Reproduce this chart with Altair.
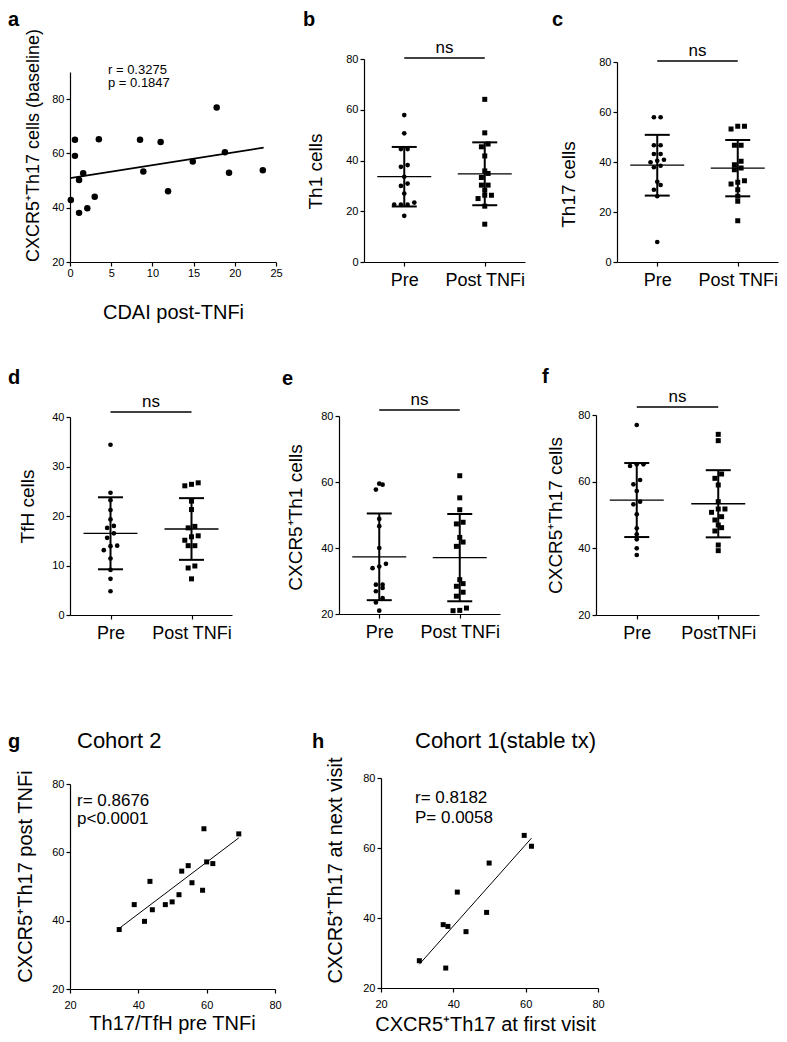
import altair as alt
import pandas as pd

FONT = "Liberation Sans"

# ---------------- data ----------------
# a: CDAI post-TNFi vs CXCR5+Th17 cells (baseline)
a_cdai = [0.1, 0.6, 0.6, 1.1, 1.1, 1.6, 2.1, 3.0, 3.5, 8.5, 8.9, 11.0, 11.9, 14.9, 17.8, 18.8, 19.3, 23.4]
a_th17 = [42.8, 65.0, 59.1, 50.2, 38.1, 52.7, 39.8, 44.0, 65.2, 65.0, 53.3, 64.2, 46.1, 57.0, 76.9, 60.4, 52.9, 53.8]
a_text = ["r = 0.3275", "p = 0.1847"]
a_xticks = [0, 5, 10, 15, 20, 25]
a_yticks = [20, 40, 60, 80]

# b-f: Pre vs Post TNFi
cats = ["Pre", "Post TNFi"]
cats_f = ["Pre", "PostTNFi"]
b_pre = [57.9, 50.7, 44.5, 44.5, 38.2, 37.5, 33.6, 30.9, 30.0, 27.0, 23.4, 22.6, 22.6, 22.6, 18.2]
b_post = [64.1, 50.9, 46.5, 45.4, 41.8, 35.9, 34.9, 33.3, 30.3, 30.3, 28.3, 26.3, 26.3, 25.0, 22.0, 14.9]
c_pre = [57.9, 57.9, 46.7, 46.7, 43.2, 43.2, 40.9, 40.5, 39.9, 38.5, 37.9, 32.1, 30.8, 28.9, 26.3, 8.0]
c_post = [54.3, 53.2, 54.3, 46.7, 46.7, 40.3, 38.9, 37.6, 36.9, 32.5, 31.9, 31.2, 28.9, 26.3, 24.3, 16.5]
d_pre = [34.4, 24.7, 23.2, 21.2, 19.3, 18.0, 17.6, 16.5, 15.6, 14.0, 13.9, 13.1, 11.4, 9.1, 7.3, 4.8]
d_post = [26.4, 26.1, 26.7, 23.0, 21.3, 17.9, 17.6, 16.0, 15.8, 15.1, 14.0, 14.0, 9.9, 9.5, 7.3]
e_pre = [59.5, 59.2, 57.7, 48.8, 46.6, 40.0, 35.2, 34.4, 33.9, 28.9, 28.9, 27.9, 26.9, 24.8, 23.5, 21.0]
e_post = [61.9, 55.2, 51.6, 47.8, 47.3, 43.2, 41.8, 40.5, 30.4, 29.2, 28.4, 26.6, 25.4, 21.8, 21.1, 21.0]
f_pre = [77.0, 65.2, 65.2, 64.7, 60.5, 59.2, 57.2, 54.0, 53.2, 50.2, 46.0, 44.2, 42.7, 40.0, 38.0]
f_post = [74.2, 72.3, 62.3, 61.0, 59.0, 54.0, 51.8, 51.8, 50.8, 49.5, 48.5, 47.0, 46.2, 45.2, 41.0, 39.3]

# g: Cohort 2
g_x = [34.4, 38.8, 41.8, 43.4, 44.1, 47.9, 49.9, 51.9, 52.7, 54.6, 55.7, 58.8, 59.2, 60.0, 61.8, 69.4]
g_y = [37.4, 44.7, 39.8, 51.5, 43.2, 44.7, 45.5, 47.6, 54.5, 56.1, 51.1, 48.9, 66.9, 57.2, 56.7, 65.4]
g_text = ["r= 0.8676", "p<0.0001"]
# h: Cohort 1 (stable tx)
h_x = [30.6, 37.2, 38.5, 37.9, 41.1, 43.5, 49.2, 49.9, 59.6, 61.6]
h_y = [27.8, 38.1, 37.6, 25.7, 47.4, 36.1, 41.6, 55.7, 63.6, 60.5]
h_text = ["r= 0.8182", "P= 0.0058"]
gh_ticks = [20, 40, 60, 80]

SUP = "\u207a"

# ---------------- helpers ----------------
STEP_PX = 6.7
GROUP_PX = 5.0
MEAN_HW_PX = 27
CAP_HW_PX = 12.5


def swarm(values, px_per_unit):
    order = sorted(range(len(values)), key=lambda i: values[i])
    groups = []
    for i in order:
        if groups and (values[i] - values[groups[-1][0]]) * px_per_unit < GROUP_PX:
            groups[-1].append(i)
        else:
            groups.append([i])
    off = [0.0] * len(values)
    for g in groups:
        k = len(g)
        for j, i in enumerate(g):
            off[i] = (j - (k - 1) / 2) * STEP_PX
    return off


def frame(L, T, W, H, R, B):
    return alt.Chart(alt.Data(values=[{"k": 0}])).mark_rule(
        color="white", strokeWidth=0.01, opacity=0
    ).encode(x=alt.value(-L), x2=alt.value(W + R), y=alt.value(-T), y2=alt.value(H + B))


def wrap(panel):
    # a 1px invisible spacer on top, so that each panel's vertical offset
    # inside its row is set by its own frame
    spacer = frame(0, 0, 1, 1, 0, 0).properties(width=1, height=1)
    return alt.vconcat(spacer, panel, spacing=0)


def txt(text, x, y, size, weight="normal", align="left", baseline="alphabetic"):
    return alt.Chart(alt.Data(values=[{"t": text}])).mark_text(
        font=FONT, fontSize=size, fontWeight=weight, align=align, baseline=baseline, color="black"
    ).encode(x=alt.value(x), y=alt.value(y), text="t:N")


def yaxis(ticks, title, tx, ty, tsize=19):
    return alt.Axis(values=ticks, title=title, titleX=tx, titleY=ty, titleAngle=270,
                    titleAlign="center", titleBaseline="middle", titleFontSize=tsize,
                    labelFontSize=11, labelPadding=2, labelFlush=False, labelOverlap=False)


def dot_panel(pre, post, W, H, ydom, yticks, ytitle, ytpos, labels, letter, letter_pos,
              bar_y, frm, cat_size=18):
    ymin, ymax = ydom
    ppu = H / (ymax - ymin)
    ux = 2.0 / W
    po = swarm(pre, ppu)
    qo = swarm(post, ppu)
    df = pd.DataFrame({
        "grp": [1] * len(pre) + [2] * len(post),
        "value": pre + post,
        "xpos": [1 + o * ux for o in po] + [2 + o * ux for o in qo],
    })
    xs = alt.Scale(domain=[0.5, 2.5], nice=False, zero=False)
    ys = alt.Scale(domain=[ymin, ymax], nice=False, zero=False)
    xa = alt.Axis(values=[1, 2], title=None,
                  labelExpr=f"datum.value == 1 ? '{labels[0]}' : '{labels[1]}'",
                  labelFontSize=cat_size, labelPadding=5, labelFlush=False, labelOverlap=False)
    ya = yaxis(yticks, ytitle, ytpos[0], ytpos[1])

    def X(f):
        return alt.X(f, scale=xs, axis=xa)

    def Y(f):
        return alt.Y(f, scale=ys, axis=ya)

    pre_pts = alt.Chart(df[df.grp == 1]).mark_circle(size=22, color="black", opacity=1).encode(
        x=X("xpos:Q"), y=Y("value:Q"))
    post_pts = alt.Chart(df[df.grp == 2]).mark_square(size=25, color="black", opacity=1).encode(
        x=X("xpos:Q"), y=Y("value:Q"))
    stats = alt.Chart(df).transform_aggregate(
        m="mean(value)", s="stdev(value)", groupby=["grp"]
    ).transform_calculate(
        lo="datum.m - datum.s", hi="datum.m + datum.s",
        ml=f"datum.grp - {MEAN_HW_PX * ux}", mr=f"datum.grp + {MEAN_HW_PX * ux}",
        cl=f"datum.grp - {CAP_HW_PX * ux}", cr=f"datum.grp + {CAP_HW_PX * ux}",
    )
    mean_r = stats.mark_rule(color="black", strokeWidth=1.3).encode(x=X("ml:Q"), x2="mr:Q", y=Y("m:Q"))
    sd_r = stats.mark_rule(color="black", strokeWidth=2).encode(x=X("grp:Q"), y=Y("lo:Q"), y2="hi:Q")
    cap_hi = stats.mark_rule(color="black", strokeWidth=2).encode(x=X("cl:Q"), x2="cr:Q", y=Y("hi:Q"))
    cap_lo = stats.mark_rule(color="black", strokeWidth=2).encode(x=X("cl:Q"), x2="cr:Q", y=Y("lo:Q"))
    ns_df = pd.DataFrame({"x1": [1], "x2": [2], "xm": [1.5], "t": ["ns"]})
    ns_bar = alt.Chart(ns_df).mark_rule(color="black", strokeWidth=1.5).encode(
        x=X("x1:Q"), x2="x2:Q", y=alt.value(bar_y))
    ns_txt = alt.Chart(ns_df).mark_text(font=FONT, fontSize=17, baseline="alphabetic", color="black").encode(
        x=X("xm:Q"), y=alt.value(bar_y - 5), text="t:N")
    lt = txt(letter, letter_pos[0], letter_pos[1], 20, weight="bold")
    panel = alt.layer(frame(*frm), pre_pts, post_pts, mean_r, sd_r, cap_hi, cap_lo,
                      ns_bar, ns_txt, lt).properties(width=W, height=H)
    return wrap(panel)


def scatter_panel(xv, yv, W, H, xdom, ydom, xticks, yticks, xtitle, ytitle, xtpos, ytpos,
                  shape, size, fit_extent, fit_w, ann, ann_pos, ann_size, letter, letter_pos,
                  frm, xlab_pad, ytsize=20, extra=None):
    df = pd.DataFrame({"x": xv, "y": yv})
    xs = alt.Scale(domain=xdom, nice=False, zero=False)
    ys = alt.Scale(domain=ydom, nice=False, zero=False)
    xa = alt.Axis(values=xticks, title=xtitle, titleX=xtpos[0], titleY=xtpos[1],
                  titleAlign="center", titleBaseline="middle", titleFontSize=20,
                  labelFontSize=11, labelPadding=xlab_pad, labelFlush=False, labelOverlap=False)
    ya = yaxis(yticks, ytitle, ytpos[0], ytpos[1], tsize=ytsize)
    enc = dict(x=alt.X("x:Q", scale=xs, axis=xa), y=alt.Y("y:Q", scale=ys, axis=ya))
    if shape == "circle":
        pts = alt.Chart(df).mark_circle(size=size, color="black", opacity=1).encode(**enc)
    else:
        pts = alt.Chart(df).mark_square(size=size, color="black", opacity=1).encode(**enc)
    reg = alt.Chart(df)
    if fit_extent is not None:
        reg = reg.transform_regression("x", "y", extent=fit_extent)
    else:
        reg = reg.transform_regression("x", "y")
    line = reg.mark_line(color="black", strokeWidth=fit_w).encode(**enc)
    layers = [frame(*frm), line, pts]
    for i, t in enumerate(ann):
        layers.append(txt(t, ann_pos[0], ann_pos[1][i], ann_size))
    layers.append(txt(letter, letter_pos[0], letter_pos[1], 20, weight="bold"))
    if extra is not None:
        layers.extend(extra)
    panel = alt.layer(*layers).properties(width=W, height=H)
    return wrap(panel)


# ---------------- panels ----------------
# frame = (left, top, width, height, right, bottom) room around each plot area
pa = scatter_panel(a_cdai, a_th17, 206, 190, [0, 25], [20, 90], a_xticks, a_yticks,
                   "CDAI post-TNFi", f"CXCR5{SUP}Th17 cells (baseline)", (103, 50), (-37, 73),
                   "circle", 42, [0, 23.5], 1.8, a_text, (38, [2, 15]), 13, "a", (-62, -46),
                   (62, 63, 206, 190, 24, 83), 1, ytsize=18)
pb = dot_panel(b_pre, b_post, 161, 203, (0, 80), [0, 20, 40, 60, 80], "Th1 cells", (-49, 112),
               cats, "b", (-61, -33), -1, (64, 50, 161, 203, 27, 83))
pc = dot_panel(c_pre, c_post, 161, 200, (0, 80), [0, 20, 40, 60, 80], "Th17 cells", (-49, 122),
               cats, "c", (-65, -36), -1, (65, 53, 161, 200, 1, 83))
pd_ = dot_panel(d_pre, d_post, 162, 198, (0, 40), [0, 10, 20, 30, 40], "TfH cells", (-43, 89),
                cats, "d", (-62, -33), -5, (62, 71, 162, 198, 50, 93))
pe = dot_panel(e_pre, e_post, 161, 198, (20, 80), [20, 40, 60, 80], f"CXCR5{SUP}Th1 cells", (-44, 101),
               cats, "e", (-57, -31), -6, (57, 70, 161, 198, 42, 94))
pf = dot_panel(f_pre, f_post, 163, 200, (20, 80), [20, 40, 60, 80], f"CXCR5{SUP}Th17 cells", (-41, 100),
               cats_f, "f", (-54, -32), -8, (54, 69, 163, 200, 20, 93))
pg = scatter_panel(g_x, g_y, 205, 205, [20, 80], [20, 80], gh_ticks, gh_ticks,
                   "Th17/TfH pre TNFi", f"CXCR5{SUP}Th17 post TNFi", (102, 34), (-45, 92),
                   "square", 25, None, 1, g_text, (7, [22, 40]), 17, "g", (-62, -36),
                   (62, 75, 205, 205, 37, 45), 6,
                   extra=[txt("Cohort 2", 7, -36, 22)])
ph = scatter_panel(h_x, h_y, 217, 210, [20, 80], [20, 80], gh_ticks, gh_ticks,
                   f"CXCR5{SUP}Th17 at first visit", f"CXCR5{SUP}Th17 at next visit", (104, 36), (-46, 92),
                   "square", 25, None, 1, h_text, (34, [25, 45]), 17, "h", (-69, -30),
                   (69, 69, 217, 210, 181, 46), 6,
                   extra=[txt("Cohort 1(stable tx)", 34, -30, 22)])

row1 = alt.hconcat(pa, pb, pc, spacing=0)
row2 = alt.hconcat(pd_, pe, pf, spacing=0)
row3 = alt.hconcat(pg, ph, spacing=0)

chart = alt.vconcat(row1, row2, row3, spacing=0).properties(padding=0).configure_view(
    stroke=None
).configure_concat(spacing=0).configure_axis(
    grid=False, domainColor="black", tickColor="black", labelColor="black", titleColor="black",
    domainWidth=1.2, tickWidth=1.2, tickSize=4, labelFont=FONT, titleFont=FONT,
    titleFontWeight="normal"
)

chart.save("out.html", embed_options={"renderer": "svg", "actions": False})
